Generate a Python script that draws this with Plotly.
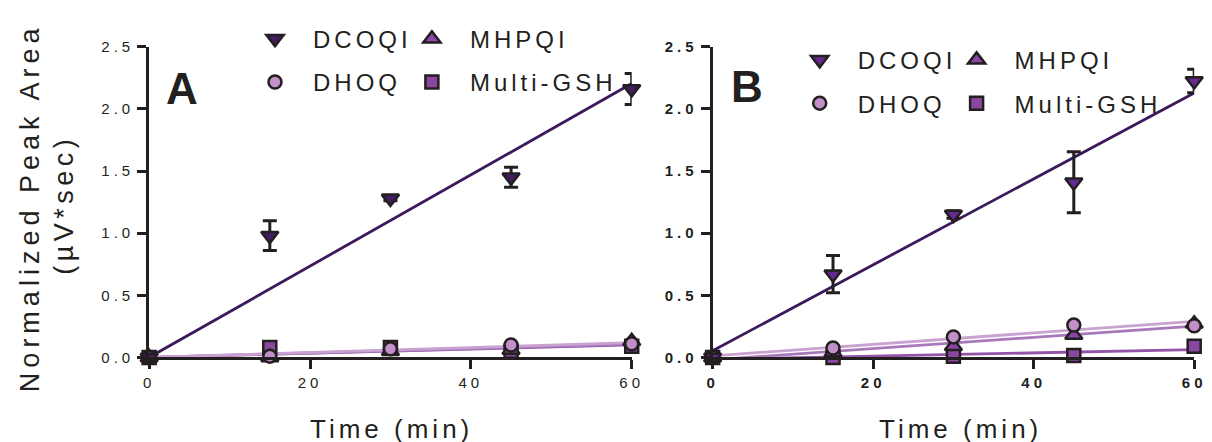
import numpy as np
import plotly.graph_objects as go

# ---------------- data ----------------
TIME = [0, 15, 30, 45, 60]
SERIES = ["DCOQI", "MHPQI", "DHOQ", "Multi-GSH"]

A_DCOQI = [0.0, 0.98, 1.28, 1.45, 2.16]
A_DCOQI_ERR = [0.0, 0.12, 0.02, 0.08, 0.125]
A_MHPQI = [0.0, 0.0, 0.05, 0.06, 0.13]
A_DHOQ = [0.0, 0.01, 0.07, 0.10, 0.11]
A_GSH = [0.0, 0.08, 0.08, 0.05, 0.09]

B_DCOQI = [0.0, 0.67, 1.15, 1.41, 2.225]
B_DCOQI_ERR = [0.0, 0.15, 0.03, 0.245, 0.095]
B_MHPQI = [0.0, 0.04, 0.09, 0.18, 0.27]
B_DHOQ = [0.0, 0.075, 0.165, 0.26, 0.255]
B_GSH = [0.0, 0.0, 0.01, 0.015, 0.09]

X_TICKS = [0, 20, 40, 60]
Y_TICKS = [0.0, 0.5, 1.0, 1.5, 2.0, 2.5]
PANEL_LABELS = ["A", "B"]
X_TITLE = "Time (min)"
Y_TITLE_1 = "Normalized Peak Area"
Y_TITLE_2 = "(µV*sec)"

# ---------------- style ----------------
W, H = 1212, 442
FONT = "Liberation Sans, Arial, Helvetica, sans-serif"
INK = "#231f20"
SYMBOLS = {"DCOQI": "triangle-down", "MHPQI": "triangle-up", "DHOQ": "circle", "Multi-GSH": "square"}
SIZES = {"DCOQI": 15, "MHPQI": 15, "DHOQ": 13, "Multi-GSH": 13}
FILLS = [
    {"DCOQI": "#421b62", "MHPQI": "#8d47a6", "DHOQ": "#c28fc9", "Multi-GSH": "#8a479f"},
    {"DCOQI": "#66298f", "MHPQI": "#8d45ab", "DHOQ": "#c28fc9", "Multi-GSH": "#8a479f"},
]
LINECOL = {"DCOQI": "#3b1a5c", "MHPQI": "#a878ba", "DHOQ": "#c9a2d2", "Multi-GSH": "#9355a8"}
THROUGH_ORIGIN = [True, False]


def px_x(p):
    return p / W


def px_y(p):
    return 1 - p / H


panels = [
    {"DCOQI": A_DCOQI, "MHPQI": A_MHPQI, "DHOQ": A_DHOQ, "Multi-GSH": A_GSH, "err": A_DCOQI_ERR},
    {"DCOQI": B_DCOQI, "MHPQI": B_MHPQI, "DHOQ": B_DHOQ, "Multi-GSH": B_GSH, "err": B_DCOQI_ERR},
]

legend_pos = [
    {"DCOQI": (268, 23), "MHPQI": (427, 23), "DHOQ": (268, 68), "Multi-GSH": (427, 68)},
    {"DCOQI": (820, 45), "MHPQI": (979, 45), "DHOQ": (820, 90), "Multi-GSH": (979, 90)},
]

fig = go.Figure()
t = np.array(TIME, dtype=float)
legend_layouts = {}
leg_idx = 0

for pi, pdata in enumerate(panels):
    xa = "x" if pi == 0 else "x2"
    ya = "y" if pi == 0 else "y2"
    # fitted lines (beneath markers)
    for name in ["Multi-GSH", "MHPQI", "DHOQ", "DCOQI"]:
        y = np.array(pdata[name], dtype=float)
        if THROUGH_ORIGIN[pi]:
            slope = float(np.sum(t * y) / np.sum(t * t))
            icpt = 0.0
        else:
            slope, icpt = np.polyfit(t, y, 1)
        xs = np.array([min(TIME), max(TIME)], dtype=float)
        fig.add_trace(go.Scatter(
            x=xs, y=slope * xs + icpt, mode="lines", xaxis=xa, yaxis=ya,
            line=dict(color=LINECOL[name], width=2.8), showlegend=False,
            hoverinfo="skip", cliponaxis=False))
    # markers
    for name in ["Multi-GSH", "MHPQI", "DHOQ", "DCOQI"]:
        leg_idx += 1
        lname = "legend" if leg_idx == 1 else f"legend{leg_idx}"
        kw = {}
        if name == "DCOQI":
            kw["error_y"] = dict(type="data", array=pdata["err"], symmetric=True,
                                 color=INK, thickness=3, width=7)
        fig.add_trace(go.Scatter(
            x=TIME, y=pdata[name], mode="markers", name=name, xaxis=xa, yaxis=ya,
            marker=dict(symbol=SYMBOLS[name], size=SIZES[name], color=FILLS[pi][name],
                        line=dict(color=INK, width=2.5)),
            cliponaxis=False, legend=lname, showlegend=True, **kw))
        sx, sy = legend_pos[pi][name]
        legend_layouts[lname] = dict(
            x=px_x(sx - 40), y=px_y(sy), xanchor="left", yanchor="middle",
            bgcolor="rgba(0,0,0,0)", borderwidth=0, itemwidth=66,
            entrywidth=200, entrywidthmode="pixels",
            font=dict(family=FONT, size=24, color=INK), orientation="h")

axis_common = dict(range=[0, 60], showgrid=False, zeroline=False, showline=True,
                   linecolor=INK, linewidth=3, ticks="outside", tickcolor=INK,
                   tickwidth=2.5, ticklen=9, tickvals=X_TICKS, ticklabelstandoff=1)
yaxis_common = dict(range=[0, 2.5], showgrid=False, zeroline=False, showline=True,
                    linecolor=INK, linewidth=3, ticks="outside", tickcolor=INK,
                    tickwidth=2.5, ticklen=9, tickvals=Y_TICKS, tickformat=".1f",
                    ticklabelstandoff=0)

fontA = dict(family=FONT, size=15, color=INK)
fontB = dict(family=FONT, size=15, color=INK, weight="bold")

fig.update_layout(
    width=W, height=H, margin=dict(l=0, r=0, t=0, b=0),
    paper_bgcolor="white", plot_bgcolor="white",
    xaxis=dict(domain=[px_x(139), px_x(628)], anchor="y", tickfont=fontA, **axis_common),
    yaxis=dict(domain=[px_y(354), px_y(31)], anchor="x", tickfont=fontA, **yaxis_common),
    xaxis2=dict(domain=[px_x(710), px_x(1198)], anchor="y2", tickfont=fontB, **axis_common),
    yaxis2=dict(domain=[px_y(354), px_y(31)], anchor="x2", tickfont=fontB, **yaxis_common),
    **legend_layouts,
)

ann = [
    dict(text=Y_TITLE_1, x=px_x(19), y=px_y(198), textangle=-90, font_size=27),
    dict(text=Y_TITLE_2, x=px_x(52), y=px_y(195), textangle=-90, font_size=27),
    dict(text=X_TITLE, x=px_x(385), y=px_y(428), font_size=26),
    dict(text=X_TITLE, x=px_x(961), y=px_y(428), font_size=26),
]
for a in ann:
    fs = a.pop("font_size")
    fig.add_annotation(xref="paper", yref="paper", showarrow=False,
                       xanchor="center", yanchor="middle",
                       font=dict(family=FONT, size=fs, color=INK), **a)
for lab, (lx, ly) in zip(PANEL_LABELS, [(172, 74), (745, 72)]):
    fig.add_annotation(text=lab, xref="paper", yref="paper", x=px_x(lx), y=px_y(ly),
                       showarrow=False, xanchor="center", yanchor="middle",
                       font=dict(family=FONT, size=44, color=INK, weight="bold"))

# the original figure uses widely tracked (letter-spaced) type: add it with CSS / JS
CSS = (
    ".js-plotly-plot text.legendtext{letter-spacing:4px;}"
    ".js-plotly-plot .xtick text,.js-plotly-plot .ytick text,"
    ".js-plotly-plot .x2tick text,.js-plotly-plot .y2tick text{letter-spacing:4px;}"
    ".js-plotly-plot g.annotation[data-index='0'] text{letter-spacing:5px;}"
    ".js-plotly-plot g.annotation[data-index='1'] text{letter-spacing:4.5px;}"
    ".js-plotly-plot g.annotation[data-index='2'] text,"
    ".js-plotly-plot g.annotation[data-index='3'] text{letter-spacing:4px;}"
    ".js-plotly-plot .scrollbox{clip-path:none !important;}"
)
POST = """
(function(){
  var st = document.createElement('style');
  st.textContent = "%s";
  document.head.appendChild(st);
  var names = %s;
  function apply(){
    document.querySelectorAll('svg text').forEach(function(e){
      var c = (e.textContent || '').trim();
      if (names.indexOf(c) >= 0) {
        e.style.setProperty('letter-spacing', '4px', 'important');
        e.querySelectorAll('tspan').forEach(function(s){ s.style.setProperty('letter-spacing', '4px', 'important'); });
      }
    });
    document.querySelectorAll('svg [clip-path]').forEach(function(e){
      var cls = e.getAttribute('class') || '';
      if (cls.indexOf('scrollbox') >= 0) { e.removeAttribute('clip-path'); }
    });
  }
  apply();
  var n = 0;
  var iv = setInterval(function(){ apply(); n += 1; if (n > 60) { clearInterval(iv); } }, 50);
})();
""" % (CSS, str(SERIES).replace("'", '"'))

fig.write_html("out.html", post_script=POST)
